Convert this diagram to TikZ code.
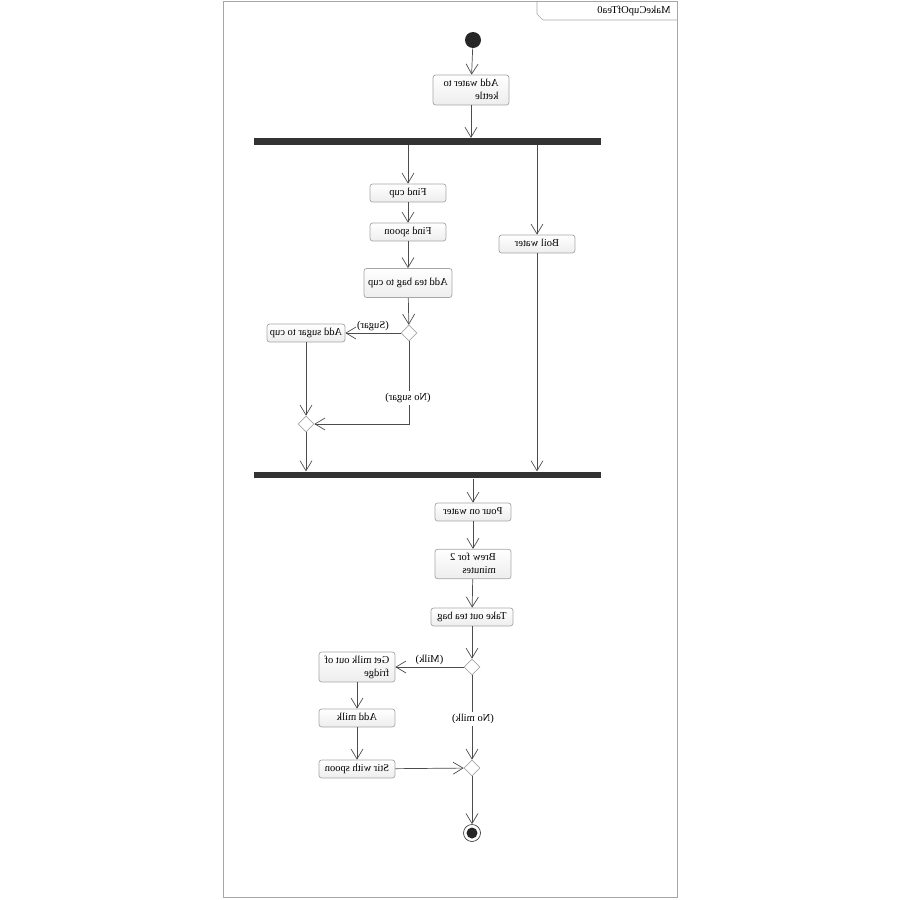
\documentclass[tikz,border=0pt]{standalone}
\usepackage{fontspec}
\setmainfont{Liberation Serif}
\usepackage{tikz}
\usetikzlibrary{shapes.geometric,arrows.meta}

% text of the reference is shown mirrored
\newcommand{\mirtxt}[1]{\reflectbox{\begin{tabular}{@{}l@{}}#1\end{tabular}}}

\begin{document}
\begin{tikzpicture}[x=0.02cm, y=-0.02cm,
    every node/.style={font=\fontsize{6}{7.4}\selectfont},
    action/.style={draw=gray!70, rounded corners=1.5pt, top color=white, bottom color=gray!14,
                   minimum width=1.52cm, minimum height=0.36cm, inner sep=1pt},
    bar/.style={fill=black!80, minimum width=6.94cm, minimum height=0.13cm, inner sep=0pt},
    choice/.style={diamond, draw=gray!70, fill=white, minimum size=0.32cm, inner sep=0pt},
    flow/.style={draw=gray!60!black, -{Straight Barb[length=2mm,width=2.4mm]}},
    guard/.style={fill=white, inner sep=0.5pt}]

    \useasboundingbox (0,0) rectangle (900,900);

    %Frame
    \draw[gray!70] (223,1) rectangle (677,897);
    \draw[gray!70] (537,1) -- (537,14) -- (543,20) -- (677,20); %Tab
    \node (title) at (634,11) {\mirtxt{MakeCupOfTea0}};

    %Start and end
    \node[circle, fill=black!85, minimum size=0.32cm, inner sep=0pt] (init) at (473,40) {};
    \node[circle, draw=black!75, minimum size=0.34cm, inner sep=0pt] (final) at (472,833) {};
    \fill[black!85] (final) circle (0.11cm);

    %Actions
    \node[action, minimum height=0.6cm] (water) at (471,90) {\mirtxt{Add water to\\kettle}};
    \node[action] (cup) at (408,193) {\mirtxt{Find cup}};
    \node[action] (spoon) at (408,232) {\mirtxt{Find spoon}};
    \node[action] (boil) at (537,244) {\mirtxt{Boil water}};
    \node[action, minimum width=1.76cm, minimum height=0.58cm] (teabag) at (408,283) {\mirtxt{Add tea bag to cup}};
    \node[action, minimum width=1.56cm] (sugar) at (306,333) {\mirtxt{Add sugar to cup}};
    \node[action] (pour) at (473,512) {\mirtxt{Pour on water}};
    \node[action, minimum height=0.56cm] (brew) at (473,564) {\mirtxt{Brew for 2\\minutes}};
    \node[action, minimum width=1.64cm] (takeout) at (472,617) {\mirtxt{Take out tea bag}};
    \node[action, minimum height=0.6cm] (getmilk) at (357,667) {\mirtxt{Get milk out of\\fridge}};
    \node[action] (addmilk) at (357,718) {\mirtxt{Add milk}};
    \node[action] (stir) at (357,769) {\mirtxt{Stir with spoon}};

    %Fork and join bars
    \node[bar] (fork) at (427.5,141.5) {};
    \node[bar] (join) at (427.5,475) {};

    %Decisions and merges
    \node[choice] (sugarq) at (409,333) {};
    \node[choice] (sugarm) at (306,424) {};
    \node[choice] (milkq) at (472,667) {};
    \node[choice] (milkm) at (472,768) {};

    %Flows
    \draw[flow] (init) -- (water);
    \draw[flow] (water.south) -- (water.south |- fork.north);
    \draw[flow] (fork.south -| cup.north) -- (cup.north);
    \draw[flow] (fork.south -| boil.north) -- (boil.north);
    \draw[flow] (cup) -- (spoon);
    \draw[flow] (spoon) -- (teabag);
    \draw[flow] (teabag) -- (sugarq);
    \draw[flow] (sugarq) -- node[above, inner sep=0pt] {\mirtxt{(Sugar)}} (sugar);
    \draw[flow] (sugarq.south) |- (sugarm.east);
    \node[guard] (nosugar) at (408,398) {\mirtxt{(No sugar)}};
    \draw[flow] (sugar) -- (sugarm);
    \draw[flow] (sugarm.south) -- (sugarm.south |- join.north);
    \draw[flow] (boil.south) -- (boil.south |- join.north);
    \draw[flow] (join.south -| pour.north) -- (pour.north);
    \draw[flow] (pour) -- (brew);
    \draw[flow] (brew) -- (takeout);
    \draw[flow] (takeout) -- (milkq);
    \draw[flow] (milkq) -- node[above, inner sep=0pt] {\mirtxt{(Milk)}} (getmilk);
    \draw[flow] (getmilk) -- (addmilk);
    \draw[flow] (addmilk) -- (stir);
    \draw[flow] (stir) -- (milkm);
    \draw[flow] (milkq) -- (milkm);
    \node[guard] (nomilk) at (473,719) {\mirtxt{(No milk)}};
    \draw[flow] (milkm) -- (final);

\end{tikzpicture}
\end{document}
